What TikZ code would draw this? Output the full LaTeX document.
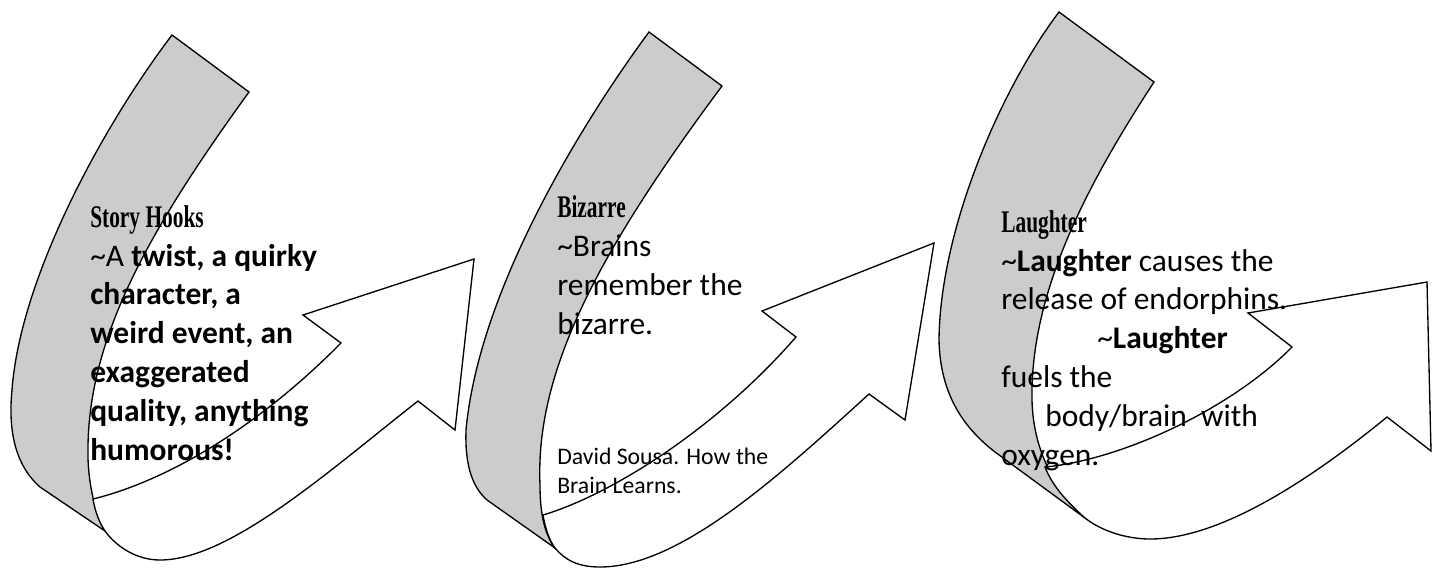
\documentclass[tikz,border=0pt]{standalone}
\usepackage{fontspec}
\setmainfont{Carlito}
\newfontfamily\headfont[FakeStretch=0.68]{Liberation Serif}
\usepackage{tikz}

\begin{document}
\begin{tikzpicture}[
    x=0.75pt, y=-0.75pt,
    back/.style={draw, line width=1pt, fill=black!20},
    front/.style={draw, line width=1pt, fill=white},
    txt/.style={anchor=base west, inner sep=0pt, align=left, font=\fontsize{23.6}{29.1}\selectfont},
    cite/.style={anchor=base west, inner sep=0pt, align=left, font=\fontsize{17.8}{21.7}\selectfont},
]
\useasboundingbox (0,0) rectangle (1438,569);

% first arrow
\path[back] (172,35) -- (249,92) .. controls (149,230) and (86,340) .. (88,456)
    .. controls (88,480) and (95,515) .. (105,531) -- (40,487)
    .. controls (15,465) and (8,430) .. (12,390)
    .. controls (20,280) and (100,130) .. (172,35) -- cycle;
\path[front] (93,499) .. controls (170,480) and (260,425) .. (341,343)
    -- (303,315) -- (474,259) -- (455,430) -- (418,401)
    .. controls (330,470) and (230,560) .. (160,560)
    .. controls (135,560) and (115,545) .. (105,531)
    .. controls (99,522) and (95,511) .. (93,499) -- cycle;

% second arrow
\path[back] (649,32) -- (722,86) .. controls (600,250) and (535,370) .. (540,485)
    .. controls (540,515) and (545,535) .. (555,548) -- (487,500)
    .. controls (470,485) and (465,460) .. (466,430)
    .. controls (480,280) and (595,105) .. (649,32) -- cycle;
\path[front] (543,515) .. controls (610,495) and (715,430) .. (796,337)
    -- (762,311) -- (934,243) -- (905,420) -- (869,394)
    .. controls (780,475) and (680,567) .. (600,567)
    .. controls (578,567) and (565,560) .. (555,548)
    .. controls (549,540) and (545,527) .. (543,515) -- cycle;

% third arrow
\path[back] (1059,12) -- (1154,82) .. controls (1090,180) and (1030,290) .. (1032,400)
    .. controls (1033,450) and (1055,490) .. (1085,518) -- (995,452)
    .. controls (960,425) and (940,390) .. (939,340)
    .. controls (940,230) and (1000,90) .. (1059,12) -- cycle;
\path[front] (1045,467) .. controls (1120,460) and (1230,410) .. (1292,347)
    -- (1248,313) -- (1427,282) -- (1431,451) -- (1387,417)
    .. controls (1310,480) and (1220,539) .. (1150,539)
    .. controls (1125,539) and (1100,530) .. (1085,518)
    .. controls (1065,500) and (1052,485) .. (1045,467) -- cycle;

% texts (base = last line)
\node[txt] (hooks) at (90,460) {{\headfont\bfseries Story Hooks}\\
    \textasciitilde A \textbf{twist, a quirky}\\
    \textbf{character, a}\\
    \textbf{weird event, an}\\
    \textbf{exaggerated}\\
    \textbf{quality, anything}\\
    \textbf{humorous!}};
\node[txt] (bizarre) at (557,334) {{\headfont\bfseries Bizarre}\\
    \textasciitilde Brains\\
    remember the\\
    bizarre.};
\node[cite] (sousa) at (557,493) {David Sousa. How the\\Brain Learns.};
\node[txt] (laughter) at (1001,465) {{\headfont\bfseries Laughter}\\
    \textasciitilde\textbf{Laughter} causes the\\
    release of endorphins.\\
    \hspace*{72pt}\textasciitilde\textbf{Laughter}\\
    fuels the\\
    \hspace*{33pt}body/brain\ \ with\\
    oxygen.};
\end{tikzpicture}
\end{document}
